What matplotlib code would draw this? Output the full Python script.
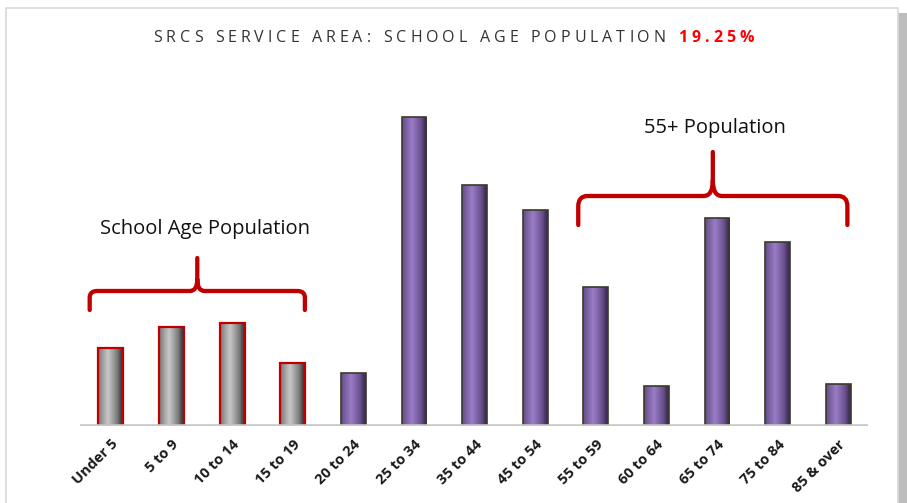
import matplotlib

matplotlib.use("Agg")
import matplotlib.pyplot as plt
import numpy as np
from matplotlib.patches import Rectangle, PathPatch
from matplotlib.path import Path

# values (relative bar heights, no axis shown)
age_groups = ["Under 5", "5 to 9", "10 to 14", "15 to 19", "20 to 24", "25 to 34",
              "35 to 44", "45 to 54", "55 to 59", "60 to 64", "65 to 74", "75 to 84",
              "85 & over"]
population = [78, 99, 103, 63, 53, 309, 241, 216, 139, 40, 208, 184, 42]
school_age = [True, True, True, True, False, False, False, False, False, False, False, False, False]

title_main = "SRCS SERVICE AREA: SCHOOL AGE POPULATION "
title_pct = "19.25%"

RED = "#c00000"
plt.rcParams["font.family"] = ["Open Sans", "DejaVu Sans"]


def gradient_fill(ax, bar, light, dark):
    x0, y0 = bar.get_x(), bar.get_y()
    w, h = bar.get_width(), bar.get_height()
    t = np.linspace(0, 1, 64)
    # bright stripe left of centre, falling off to a dark right edge
    k = np.clip(1 - np.abs(t - 0.4) / 0.6, 0, 1) ** 0.8
    k[t > 0.8] *= np.linspace(1, 0.1, (t > 0.8).sum())
    light, dark = np.array(matplotlib.colors.to_rgb(light)), np.array(matplotlib.colors.to_rgb(dark))
    img = dark[None, :] + (light - dark)[None, :] * k[:, None]
    im = ax.imshow(img[None, :, :], extent=(x0, x0 + w, y0, y0 + h), aspect="auto",
                   zorder=bar.get_zorder() - 0.1, interpolation="bilinear")
    im.set_clip_path(bar)


def brace(ax, x0, x1, y, drop, rise, color):
    xm = (x0 + x1) / 2
    r = 0.12 * (x1 - x0) / 3.5
    dy = drop * 0.35
    verts = [
        (x0, y - drop), (x0, y - dy), (x0, y), (x0 + r, y),
        (xm - r, y), (xm, y), (xm, y + rise * 0.35), (xm, y + rise),
        (xm, y + rise * 0.35), (xm, y), (xm + r, y),
        (x1 - r, y), (x1, y), (x1, y - dy), (x1, y - drop),
    ]
    codes = [Path.MOVETO, Path.LINETO, Path.CURVE3, Path.CURVE3,
             Path.LINETO, Path.CURVE3, Path.CURVE3, Path.LINETO,
             Path.MOVETO, Path.CURVE3, Path.CURVE3,
             Path.LINETO, Path.CURVE3, Path.CURVE3, Path.LINETO]
    ax.add_patch(PathPatch(Path(verts, codes), fill=False, edgecolor=color, lw=3.1,
                           capstyle="round", joinstyle="round", clip_on=False, zorder=5))


def spaced_title(fig, y, parts, size, tracking):
    # matplotlib has no letter spacing, so lay the characters out one by one
    r = fig.canvas.get_renderer()
    items = []
    total = 0
    for text, color, weight in parts:
        for ch in text:
            t = fig.text(0, y, ch, fontsize=size, color=color, fontweight=weight,
                         ha="left", va="center")
            w = t.get_window_extent(r).width if ch != " " else size * 0.28 * fig.dpi / 72
            items.append((t, w))
            total += w + tracking
    total -= tracking
    x = (fig.bbox.width - total) / 2
    for t, w in items:
        t.set_x(x / fig.bbox.width)
        x += w + tracking


fig = plt.figure(figsize=(9.07, 5.03), dpi=100)

# card frame with a soft shadow on the right
fig.patches.append(Rectangle((0.988, 0.0), 0.012, 0.975, transform=fig.transFigure,
                             facecolor="#bdbdbd", edgecolor="none", zorder=0))
fig.patches.append(Rectangle((0.007, -0.02), 0.983, 1.004, transform=fig.transFigure,
                             facecolor="white", edgecolor="#d9d9d9", lw=1.2, zorder=0.5))

ax = fig.add_axes([80 / 907, 77 / 503, 788 / 907, 336 / 503])
ax.set_zorder(2)
ax.set_facecolor("none")
x = np.arange(len(age_groups))
bars = ax.bar(x, population, width=0.41, zorder=3, facecolor="none")
for b, school in zip(bars, school_age):
    if school:
        b.set_edgecolor(RED)
        b.set_linewidth(1.6)
        gradient_fill(ax, b, "#c8c8c8", "#3a3a3a")
    else:
        b.set_edgecolor("#3b3b2a")
        b.set_linewidth(1.2)
        gradient_fill(ax, b, "#9a7cc8", "#3c2a55")

ax.set_xlim(-0.51, 12.49)
ax.set_ylim(0, 336)
ax.axhline(0, color="#c8c8c4", lw=2.6, zorder=4)
for s in ax.spines.values():
    s.set_visible(False)
ax.set_yticks([])
ax.set_xticks(x)
ax.set_xticklabels(age_groups, rotation=45, ha="right", rotation_mode="anchor",
                   fontsize=10.5, fontweight="bold", color="#1a1a1a")
ax.tick_params(axis="x", length=0, pad=8)

# braces and group labels
brace(ax, -0.35, 3.2, 135, 19, 33, RED)
brace(ax, 7.71, 12.15, 230, 29, 44, RED)
ax.text(1.55, 197, "School Age Population", ha="center", va="center", fontsize=14.5,
        color="#111111")
ax.text(9.97, 298, "55+ Population", ha="center", va="center", fontsize=14.5,
        color="#111111")

fig.canvas.draw()
spaced_title(fig, 1 - 38 / 503,
             [(title_main, "#333333", "normal"), (title_pct, "#ff0000", "bold")],
             size=11.5, tracking=4.0)

fig.savefig("out.png", dpi=100)
